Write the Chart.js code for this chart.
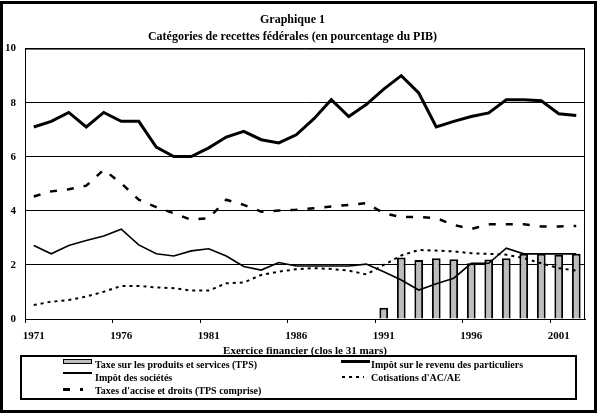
<!DOCTYPE html>
<html>
<head>
<meta charset="utf-8">
<script src="https://cdn.jsdelivr.net/npm/chart.js@4/dist/chart.umd.min.js"></script>
<style>
  body { margin: 0; background: #fff; }
  #wrap { position: relative; width: 599px; height: 415px; }
  #frame { position: absolute; left: 0; top: 1px; width: 597px; height: 412px; box-sizing: border-box; border: 3px solid #000; pointer-events: none; }
  #legend { position: absolute; left: 20px; top: 355px; width: 557px; height: 45px; box-sizing: border-box; border: 2px solid #000; font: bold 10px "Liberation Serif", "Times New Roman", serif; color: #000; }
  #legend .sym, #legend .txt { position: absolute; }
  #legend .txt { line-height: 12px; white-space: nowrap; }
</style>
</head>
<body>
<div id="wrap">
  <canvas id="myChart" width="599" height="415"></canvas>
  <div id="legend"></div>
  <div id="frame"></div>
</div>
<script>
// exercices 1971 a 2002
const years = ['1971','1972','1973','1974','1975','1976','1977','1978','1979','1980',
  '1981','1982','1983','1984','1985','1986','1987','1988','1989','1990',
  '1991','1992','1993','1994','1995','1996','1997','1998','1999','2000','2001','2002'];
const tickYears = ['1971','1976','1981','1986','1991','1996','2001'];
const yTicks = [0, 2, 4, 6, 8, 10];

const tps = [null,null,null,null,null,null,null,null,null,null,
  null,null,null,null,null,null,null,null,null,null,
  0.42,2.27,2.18,2.25,2.21,2.06,2.20,2.25,2.41,2.41,2.38,2.41];
const particuliers = [7.10,7.31,7.64,7.10,7.64,7.31,7.31,6.36,6.01,6.01,
  6.33,6.73,6.94,6.63,6.51,6.81,7.40,8.11,7.49,7.93,
  8.50,9.00,8.36,7.10,7.31,7.49,7.62,8.11,8.11,8.07,7.59,7.53];
const societes = [2.72,2.41,2.72,2.90,3.07,3.32,2.74,2.41,2.33,2.52,
  2.60,2.33,1.94,1.81,2.09,1.96,1.96,1.96,1.96,2.03,
  1.75,1.44,1.07,1.30,1.51,2.06,2.06,2.62,2.41,2.41,2.41,2.41];
const cotisations = [0.52,0.64,0.70,0.83,1.01,1.22,1.22,1.17,1.14,1.05,
  1.05,1.32,1.35,1.63,1.75,1.84,1.88,1.85,1.79,1.65,
  2.00,2.35,2.55,2.53,2.50,2.43,2.41,2.38,2.25,2.06,1.88,1.79];
const accise = [4.53,4.72,4.80,4.93,5.52,5.02,4.41,4.14,3.91,3.67,
  3.73,4.41,4.22,3.97,4.01,4.04,4.10,4.16,4.22,4.28,
  3.91,3.77,3.77,3.73,3.48,3.33,3.50,3.50,3.50,3.42,3.42,3.44];

const serif = '"Liberation Serif", "Times New Roman", serif';
Chart.defaults.font.family = serif;
Chart.defaults.color = '#000';

// cadre de la zone de tracé
const plotBorder = {
  id: 'plotBorder',
  afterDatasetsDraw(chart) {
    const {ctx, chartArea: a} = chart;
    ctx.save();
    ctx.strokeStyle = '#000';
    ctx.lineWidth = 1;
    ctx.strokeRect(a.left + 0.5, a.top + 0.5, a.right - a.left - 1, a.bottom - a.top);
    ctx.restore();
  }
};

const ctx = document.getElementById('myChart').getContext('2d');
const myChart = new Chart(ctx, {
  type: 'bar',
  data: {
    labels: years,
    datasets: [
      { type: 'bar', label: 'Taxe sur les produits et services (TPS)', data: tps,
        backgroundColor: '#bdbdbd', borderColor: '#000', borderWidth: 2,
        barPercentage: 0.5, categoryPercentage: 1, order: 5 },
      { type: 'line', label: 'Impôt sur le revenu des particuliers', data: particuliers,
        borderColor: '#000', borderWidth: 3, pointRadius: 0, tension: 0, order: 0 },
      { type: 'line', label: 'Impôt des sociétés', data: societes,
        borderColor: '#000', borderWidth: 1.6, pointRadius: 0, tension: 0, order: 1 },
      { type: 'line', label: "Cotisations d'AC/AE", data: cotisations,
        borderColor: '#000', borderWidth: 2, borderDash: [3, 4], pointRadius: 0, tension: 0, order: 2 },
      { type: 'line', label: "Taxes d'accise et droits (TPS comprise)", data: accise,
        borderColor: '#000', borderWidth: 2.5, borderDash: [7, 10], pointRadius: 0, tension: 0, order: 3 }
    ]
  },
  options: {
    responsive: false,
    animation: false,
    layout: { padding: { left: 0, right: 14, top: 0, bottom: 57 } },
    plugins: {
      legend: { display: false },
      tooltip: { enabled: false },
      title: {
        display: true,
        text: ['Graphique 1', 'Catégories de recettes fédérales (en pourcentage du PIB)'],
        font: { size: 12, weight: 'bold', lineHeight: 1.4 },
        color: '#000',
        padding: { top: 12, bottom: 3 }
      }
    },
    scales: {
      x: {
        offset: true,
        afterFit: s => { s.height = 39; },
        grid: {
          offset: true,
          drawOnChartArea: false,
          tickLength: 4,
          tickColor: c => tickYears.includes(years[c.index]) ? '#000' : 'rgba(0,0,0,0)'
        },
        border: { display: true, color: '#000' },
        ticks: {
          autoSkip: false, maxRotation: 0, padding: 7,
          font: { size: 11, weight: 'bold' },
          callback: (v, i) => tickYears.includes(years[i]) ? years[i] : ''
        },
        title: {
          display: true,
          text: 'Exercice financier (clos le 31 mars)',
          font: { size: 11, weight: 'bold' },
          padding: 0
        }
      },
      y: {
        min: 0, max: 10,
        afterFit: s => { s.width = 25; },
        afterBuildTicks: s => { s.ticks = yTicks.map(v => ({ value: v })); },
        grid: { color: '#000', lineWidth: 1, drawTicks: false },
        border: { display: true, color: '#000' },
        ticks: { padding: 9, font: { size: 11, weight: 'bold' } }
      }
    }
  },
  plugins: [plotBorder]
});

// légende en deux colonnes, comme l'original
const legendLayout = [
  { ds: 0, sx: 41, sy: 2, sw: 29, txtX: 73, txtY: 2 },
  { ds: 2, sx: 41, sy: 15, sw: 29, txtX: 73, txtY: 15 },
  { ds: 4, sx: 41, sy: 31, sw: 20, txtX: 73, txtY: 28 },
  { ds: 1, sx: 319, sy: 3, sw: 29, txtX: 349, txtY: 2 },
  { ds: 3, sx: 320, sy: 19, sw: 22, txtX: 349, txtY: 15 }
];
const legendEl = document.getElementById('legend');
legendLayout.forEach(it => {
  const d = myChart.data.datasets[it.ds];
  const sym = document.createElement('div');
  sym.className = 'sym';
  sym.style.left = it.sx + 'px';
  sym.style.top = it.sy + 'px';
  sym.style.width = it.sw + 'px';
  if (d.type === 'bar') {
    sym.style.height = '5px';
    sym.style.boxSizing = 'border-box';
    sym.style.background = d.backgroundColor;
    sym.style.border = '1px solid #000';
  } else if (d.borderDash) {
    const on = d.borderDash[0], off = d.borderDash[1];
    sym.style.height = Math.round(d.borderWidth) + 'px';
    sym.style.background = `repeating-linear-gradient(to right, #000 0 ${on}px, transparent ${on}px ${on + off}px)`;
  } else {
    sym.style.height = Math.round(d.borderWidth) + 'px';
    sym.style.background = '#000';
  }
  legendEl.appendChild(sym);
  const txt = document.createElement('div');
  txt.className = 'txt';
  txt.style.left = it.txtX + 'px';
  txt.style.top = it.txtY + 'px';
  txt.textContent = d.label;
  legendEl.appendChild(txt);
});
</script>
</body>
</html>
